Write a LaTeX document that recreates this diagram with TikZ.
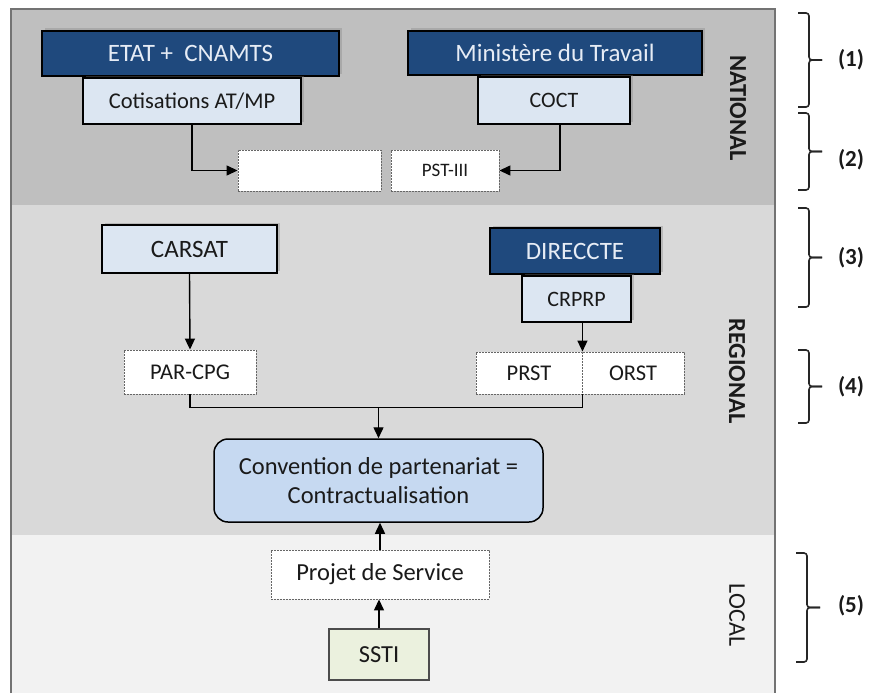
\documentclass[tikz,border=0pt]{standalone}
\usepackage{fontspec}
\setmainfont{Carlito}
\usetikzlibrary{arrows.meta,shadows,calc}
\definecolor{navy}{HTML}{1F497D}
\definecolor{lightblue}{HTML}{DCE6F2}
\definecolor{convblue}{HTML}{C6D9F1}
\definecolor{lightgreen}{HTML}{EBF1DE}
\definecolor{bandA}{HTML}{BFBFBF}
\definecolor{bandB}{HTML}{D9D9D9}
\definecolor{bandC}{HTML}{F2F2F2}
\definecolor{txt}{HTML}{1A1A1A}
\definecolor{lighttxt}{HTML}{E6ECF5}
\tikzset{
  base/.style={inner sep=0pt, align=center, text=txt, font=\fontsize{24.5}{29}\selectfont},
  darkbox/.style={base, fill=navy, draw=black, line width=1.2pt, text=lighttxt,
    font=\fontsize{25}{29}\selectfont,
    drop shadow={shadow xshift=2.5pt, shadow yshift=2.5pt, opacity=0.35}},
  lightbox/.style={base, fill=lightblue, draw=black, line width=1.5pt,
    drop shadow={shadow xshift=2.5pt, shadow yshift=2.5pt, opacity=0.35}},
  dashbox/.style={base, fill=white, draw=black!60, line width=0.9pt, dash pattern=on 2pt off 1pt},
  convbox/.style={base, fill=convblue, draw=black, line width=1.5pt, rounded corners=14pt},
  sstibox/.style={base, fill=lightgreen, draw=black!70, line width=1.2pt},
  arr/.style={line width=1.4pt, -{Triangle[length=11pt,width=10pt]}},
  ln/.style={line width=1.4pt},
  lvl/.style={rotate=-90, text=txt, font=\fontsize{24.5}{28}\selectfont\bfseries},
  brc/.style={line width=1.6pt, draw=black!85, rounded corners=3pt},
  num/.style={text=txt, font=\fontsize{23}{27}\selectfont\bfseries}
}
\newcommand{\mybrk}[3]{% x-left, top, bottom
  \draw[brc] (#1,#2) -| (#1+11,{(#2+#3)/2}) -- (#1+24,{(#2+#3)/2});
  \draw[brc] (#1+24,{(#2+#3)/2}) -- (#1+11,{(#2+#3)/2}) |- (#1,#3);
}
\begin{document}
\begin{tikzpicture}[x=1pt,y=-1pt]
\useasboundingbox (0,0) rectangle (872,693);
% bands
\fill[bandA] (11,9) rectangle (775,205);
\fill[bandB] (11,205) rectangle (775,535);
\fill[bandC] (11,535) rectangle (775,693);
\draw[black!55, line width=1.4pt] (11,693) -- (11,9) -- (775,9) -- (775,693);

% national
\node[darkbox, minimum width=297pt, minimum height=45pt] (etat) at (190.5,53.5) {ETAT +\ \ CNAMTS};
\node[lightbox, minimum width=218pt, minimum height=46pt, font=\fontsize{22.5}{27}\selectfont] (cotis) at (192,101) {Cotisations AT/MP};
\node[darkbox, minimum width=294pt, minimum height=44pt] (minis) at (555,53) {Ministère du Travail};
\node[lightbox, minimum width=152pt, minimum height=47pt, font=\fontsize{22}{27}\selectfont] (coct) at (554,100.5) {COCT};
\node[dashbox, minimum width=143pt, minimum height=41pt] (empty) at (309.5,170.5) {};
\node[dashbox, minimum width=108pt, minimum height=41pt, font=\fontsize{19}{22}\selectfont] (pst) at (445,170.5) {PST-III};
\draw[arr] (cotis.south) |- (empty.west);
\draw[arr] ([xshift=6pt]coct.south) |- (pst.east);
\node[lvl] (nat) at (738,108) {NATIONAL};

% regional
\node[lightbox, minimum width=175pt, minimum height=48pt, font=\fontsize{25}{29}\selectfont] (carsat) at (189.5,249) {CARSAT};
\node[darkbox, minimum width=170pt, minimum height=46pt] (direccte) at (575,251) {DIRECCTE};
\node[lightbox, minimum width=109pt, minimum height=46pt, font=\fontsize{22}{26}\selectfont] (crprp) at (576.5,299) {CRPRP};
\node[dashbox, minimum width=132pt, minimum height=44pt, font=\fontsize{22.5}{26}\selectfont] (parcpg) at (190,372) {PAR-CPG};
\node[dashbox, minimum width=106pt, minimum height=42pt, font=\fontsize{22.5}{26}\selectfont] (prst) at (529,373) {PRST};
\node[dashbox, minimum width=102pt, minimum height=42pt, font=\fontsize{22.5}{26}\selectfont] (orst) at (633,373) {ORST};
\node[convbox, minimum width=329pt, minimum height=83pt] (conv) at (378.5,480.5) {Convention de partenariat =\\Contractualisation};
\draw[arr] (carsat.south) -- (parcpg.north);
\draw[arr] (crprp.south -| prst.north east) -- (prst.north east);
\coordinate (mrg) at ($(conv.north)+(0,-31)$);
\draw[ln] (parcpg.south) |- (mrg) -| (prst.south east);
\draw[arr] (mrg) -- (conv.north);
\node[lvl] (reg) at (737,371) {REGIONAL};

% local
\node[dashbox, minimum width=218pt, minimum height=49pt] (projet) at (380,574.5) {Projet de Service};
\node[sstibox, minimum width=100pt, minimum height=51pt] (ssti) at (379,654.5) {SSTI};
\draw[arr] (projet.north) -- (projet.north |- conv.south);
\draw[arr] (ssti.north) -- (ssti.north |- projet.south);
\node[lvl, font=\fontsize{24}{28}\selectfont] (loc) at (737,615) {LOCAL};

% braces
\mybrk{798}{13}{107}
\mybrk{798}{113}{190}
\mybrk{798}{208}{307}
\mybrk{798}{350}{423}
\mybrk{796}{553}{662}
\node[num] (n1) at (851,60) {(1)};
\node[num] (n2) at (851,160) {(2)};
\node[num] (n3) at (851,258) {(3)};
\node[num] (n4) at (851,387) {(4)};
\node[num] (n5) at (851,606) {(5)};
\end{tikzpicture}
\end{document}
